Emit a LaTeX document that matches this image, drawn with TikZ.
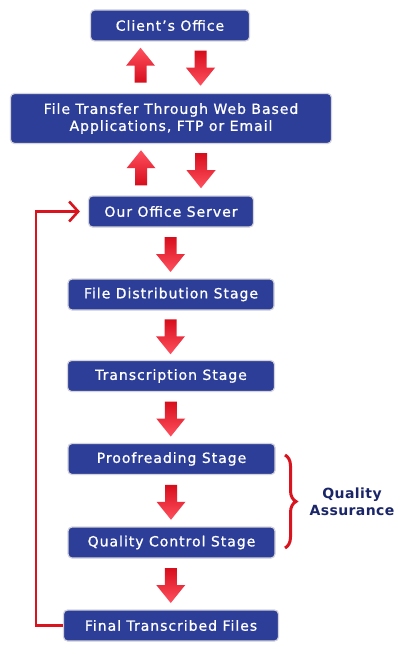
\documentclass[tikz,border=0pt]{standalone}
\usepackage{fontspec}
\setmainfont{DejaVu Sans}
\newfontfamily\boxfont[LetterSpace=7,FakeBold=0.9]{DejaVu Sans}
\newfontfamily\qafont[LetterSpace=3]{DejaVu Sans}
\usepackage{tikz}
\usetikzlibrary{calc,arrows.meta,decorations.pathreplacing}
\usepackage{xcolor}

\definecolor{boxblue}{RGB}{45,62,152}
\definecolor{boxrim}{RGB}{212,212,218}
\definecolor{arrdark}{RGB}{215,14,28}
\definecolor{arrlight}{RGB}{255,80,95}
\definecolor{linered}{RGB}{218,20,30}
\definecolor{qanavy}{RGB}{26,38,104}

\tikzset{
  stagebox/.style={draw=boxrim, line width=1.2pt, fill=boxblue, rounded corners=4pt,
    text=white, font=\boxfont\fontsize{14}{17}\selectfont, minimum height=31pt,
    inner sep=0pt, align=center},
  feedback/.style={draw=linered, line width=2.6pt, -{Straight Barb[length=9pt,width=20pt]}},
  qabrace/.style={draw=linered, line width=3pt, decorate, decoration={brace, amplitude=11pt}},
  qatext/.style={text=qanavy, font=\qafont\bfseries\fontsize{14}{17}\selectfont, align=center},
  % block arrows, 35pt long, head 29pt wide
  downarr/.pic={
    \shade[top color=arrdark, bottom color=arrlight]
      (-6,-17.5) -- (6,-17.5) -- (6,-0.5) -- (14.5,-0.5) -- (0,17.5)
      -- (-14.5,-0.5) -- (-6,-0.5) -- cycle;
  },
  uparr/.pic={
    \shade[top color=arrlight, bottom color=arrdark]
      (-6,17.5) -- (6,17.5) -- (6,0.5) -- (14.5,0.5) -- (0,-17.5)
      -- (-14.5,0.5) -- (-6,0.5) -- cycle;
  }
}

\begin{document}
\begin{tikzpicture}[x=1pt, y=-1pt]

\path[use as bounding box, fill=white] (0,0) rectangle (401,647);

% stages
\node[stagebox, minimum width=159pt] (cli) at (170,25.5) {Client’s Office};
\node[stagebox, minimum width=321pt, minimum height=50pt] (ftp) at (171,118.5)
  {File Transfer Through Web Based\\Applications, FTP or Email};
\node[stagebox, minimum width=165pt] (srv) at (171,211.5) {Our Office Server};
\node[stagebox, minimum width=206pt] (dist) at (171,294.5) {File Distribution Stage};
\node[stagebox, minimum width=207pt] (trans) at (171,376) {Transcription Stage};
\node[stagebox, minimum width=207pt] (proof) at (171.5,459) {Proofreading Stage};
\node[stagebox, minimum width=207pt] (qc) at (171.5,542.5) {Quality Control Stage};
\node[stagebox, minimum width=215pt] (fin) at (171,625.5) {Final Transcribed Files};

% two-way transfer at the top
\pic at ($(cli.south)!0.5!(ftp.north)+(-30,-2)$) {uparr};
\pic at ($(cli.south)!0.5!(ftp.north)+(30,1)$) {downarr};
\pic at ($(ftp.south)!0.5!(srv.north)+(-30,-2)$) {uparr};
\pic at ($(ftp.south)!0.5!(srv.north)+(30,1)$) {downarr};

% flow through the stages
\foreach \a/\b in {srv/dist, dist/trans, trans/proof, proof/qc, qc/fin}{
  \pic at ($(\a.south)!0.5!(\b.north)+(-0.5,1.5)$) {downarr};
}

% return line to the server
\draw[feedback] (fin.west) -- ++(-27,0) |- ([xshift=-8pt]srv.west);

% quality assurance
\draw[qabrace] (285,455) -- (285,548);
\node[qatext] (qa) at (352,502) {Quality\\Assurance};

\end{tikzpicture}
\end{document}
